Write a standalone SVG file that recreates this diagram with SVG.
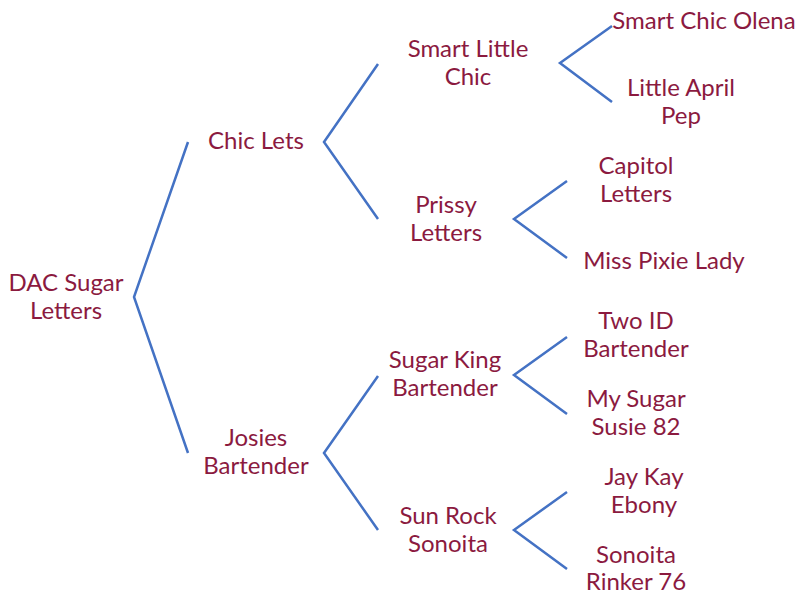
<svg xmlns="http://www.w3.org/2000/svg" width="800" height="593" viewBox="0 0 800 593">
<style>
text{font-family:Lato,"Open Sans","Liberation Sans",sans-serif;font-size:24px;fill:#8B1A3F;text-anchor:middle}
.c{fill:none;stroke:#4472C4;stroke-width:2.5;stroke-linejoin:miter}
</style>
<rect width="800" height="593" fill="#fff"/>
<g id="connectors">
<polyline class="c" points="188,142 134,297 188,453"/>
<polyline class="c" points="378,64 324,142 378,219"/>
<polyline class="c" points="378,376 324,453 378,530"/>
<polyline class="c" points="612,26 560,63 612,102"/>
<polyline class="c" points="567,181 514,219 567,258"/>
<polyline class="c" points="567,337 514,375 567,414"/>
<polyline class="c" points="567,492 514,530 567,569"/>
</g>
<g id="n-dac"><text x="66" y="291">DAC Sugar</text><text x="66" y="319">Letters</text></g>
<g id="n-chiclets"><text x="256" y="149">Chic Lets</text></g>
<g id="n-josies"><text x="256" y="446">Josies</text><text x="256" y="474">Bartender</text></g>
<g id="n-smartlittle"><text x="468" y="57">Smart Little</text><text x="468" y="85">Chic</text></g>
<g id="n-prissy"><text x="446" y="213">Prissy</text><text x="446" y="241">Letters</text></g>
<g id="n-sugarking"><text x="445" y="368">Sugar King</text><text x="445" y="396">Bartender</text></g>
<g id="n-sunrock"><text x="448" y="524">Sun Rock</text><text x="448" y="552">Sonoita</text></g>
<g id="n-olena"><text x="704" y="29">Smart Chic Olena</text></g>
<g id="n-april"><text x="681" y="96">Little April</text><text x="681" y="124">Pep</text></g>
<g id="n-capitol"><text x="636" y="174">Capitol</text><text x="636" y="202">Letters</text></g>
<g id="n-pixie"><text x="664" y="269">Miss Pixie Lady</text></g>
<g id="n-twoid"><text x="636" y="329">Two ID</text><text x="636" y="357">Bartender</text></g>
<g id="n-mysugar"><text x="636" y="407">My Sugar</text><text x="636" y="435">Susie 82</text></g>
<g id="n-jaykay"><text x="644" y="485">Jay Kay</text><text x="644" y="513">Ebony</text></g>
<g id="n-sonoita"><text x="636" y="563">Sonoita</text><text x="636" y="590">Rinker 76</text></g>
</svg>
